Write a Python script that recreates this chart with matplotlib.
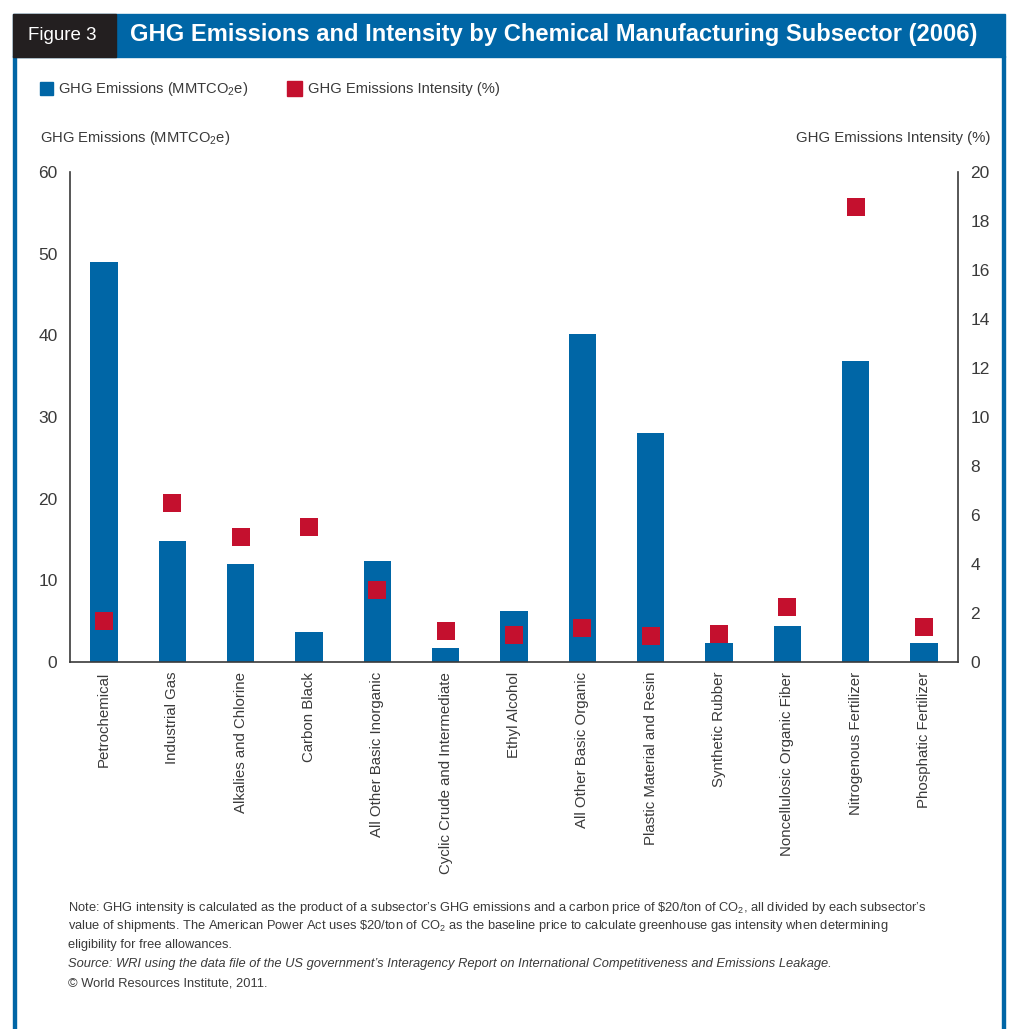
import matplotlib
matplotlib.use("Agg")
import matplotlib.pyplot as plt
from matplotlib.patches import Rectangle
import numpy as np

# datos
subsectores = [
    "Petrochemical", "Industrial Gas", "Alkalies and Chlorine", "Carbon Black",
    "All Other Basic Inorganic", "Cyclic Crude and Intermediate", "Ethyl Alcohol",
    "All Other Basic Organic", "Plastic Material and Resin", "Synthetic Rubber",
    "Noncellulosic Organic Fiber", "Nitrogenous Fertilizer", "Phosphatic Fertilizer",
]
emisiones = [49.0, 14.8, 12.0, 3.7, 12.4, 1.7, 6.2, 40.2, 28.0, 2.3, 4.4, 36.9, 2.3]
intensidad = [1.67, 6.48, 5.09, 5.52, 2.94, 1.27, 1.12, 1.39, 1.06, 1.15, 2.24, 18.57, 1.43]
ticks_izq = [0, 10, 20, 30, 40, 50, 60]
ticks_der = [0, 2, 4, 6, 8, 10, 12, 14, 16, 18, 20]

AZUL = "#0066a6"
ROJO = "#c4102e"
GRIS = "#3a3a3a"
SANS = ["Liberation Sans", "DejaVu Sans"]

plt.rcParams["font.family"] = SANS
plt.rcParams["mathtext.fontset"] = "custom"
plt.rcParams["mathtext.rm"] = "Liberation Sans"
plt.rcParams["mathtext.it"] = "Liberation Sans:italic"

W, H = 1016, 1029
fig = plt.figure(figsize=(W / 100, H / 100), dpi=100)


def fx(px):
    return px / W


def fy(py):
    return 1 - py / H


# marco y barra de titulo
fig.patches.append(Rectangle((fx(13), 0), fx(3), fy(56), transform=fig.transFigure,
                             color=AZUL, zorder=0))
fig.patches.append(Rectangle((fx(1002), 0), fx(3), fy(56), transform=fig.transFigure,
                             color=AZUL, zorder=0))
fig.patches.append(Rectangle((fx(13), fy(57)), fx(992), 43 / H, transform=fig.transFigure,
                             color=AZUL, zorder=0))
fig.patches.append(Rectangle((fx(13), fy(57)), fx(103), 43 / H, transform=fig.transFigure,
                             color="#231f20", zorder=1))
fig.text(fx(28), fy(36), "Figure 3", color="white", fontsize=13.5, va="center")
fig.text(fx(130), fy(35), "GHG Emissions and Intensity by Chemical Manufacturing Subsector (2006)",
         color="white", fontsize=17.1, fontweight="bold", va="center")

# leyenda
fig.patches.append(Rectangle((fx(40), fy(95)), 13 / W, 13 / H, transform=fig.transFigure,
                             color=AZUL))
fig.text(fx(58), fy(89), "GHG Emissions (MMTCO$_\\mathregular{2}$e)", fontsize=10.6,
         color=GRIS, va="center")
fig.patches.append(Rectangle((fx(287), fy(96)), 15 / W, 15 / H, transform=fig.transFigure,
                             color=ROJO))
fig.text(fx(308), fy(89), "GHG Emissions Intensity (%)", fontsize=10.6,
         color=GRIS, va="center")

# titulos de ejes
fig.text(fx(40), fy(138), "GHG Emissions (MMTCO$_\\mathregular{2}$e)", fontsize=10.6,
         color=GRIS, va="center")
fig.text(fx(990), fy(138), "GHG Emissions Intensity (%)", fontsize=10.8,
         color=GRIS, va="center", ha="right")

# ejes
y0, y60 = 662, 172
ax = fig.add_axes([fx(70), fy(y0), 888 / W, (y0 - y60) / H])
x = np.arange(len(subsectores))
ax.bar(x, emisiones, width=0.4, color=AZUL, zorder=2)
ax.set_xlim(-0.5, len(subsectores) - 0.5)
ax.set_ylim(0, 60)
ax.set_yticks(ticks_izq)
ax.set_xticks(x)
ax.set_xticklabels(subsectores, rotation=90, fontsize=10.8, color=GRIS)
ax.tick_params(axis="x", length=0, pad=7)
ax.tick_params(axis="y", length=0, pad=9, labelsize=12.5, labelcolor=GRIS)
for s in ["top", "right"]:
    ax.spines[s].set_visible(False)
for s in ["left", "bottom"]:
    ax.spines[s].set_color(GRIS)
    ax.spines[s].set_linewidth(1.2)

ax2 = ax.twinx()
ax2.plot(x, intensidad, linestyle="none", marker="s", markersize=13,
         color=ROJO, markeredgewidth=0, zorder=3)
ax2.set_ylim(0, 20)
ax2.set_yticks(ticks_der)
ax2.tick_params(axis="y", length=0, pad=9, labelsize=12.5, labelcolor=GRIS)
for s in ["top", "left", "bottom"]:
    ax2.spines[s].set_visible(False)
ax2.spines["right"].set_color(GRIS)
ax2.spines["right"].set_linewidth(1.2)

# nota y fuente
nota = [
    "Note: GHG intensity is calculated as the product of a subsector\u2019s GHG emissions and a carbon price of \\$20/ton of CO$_\\mathregular{2}$, all divided by each subsector\u2019s",
    "value of shipments. The American Power Act uses \\$20/ton of CO$_\\mathregular{2}$ as the baseline price to calculate greenhouse gas intensity when determining",
    "eligibility for free allowances.",
]
for i, linea in enumerate(nota):
    fig.text(fx(68), fy(908 + i * 18.5), linea, fontsize=9.3, color=GRIS, va="center")
fig.text(fx(68), fy(964), "Source: WRI using the data file of the US government\u2019s Interagency Report on International Competitiveness and Emissions Leakage.",
         fontsize=9.3, color=GRIS, va="center", style="italic")
fig.text(fx(68), fy(983), "\u00a9 World Resources Institute, 2011.", fontsize=9.3,
         color=GRIS, va="center")

fig.savefig("out.png", dpi=100)
